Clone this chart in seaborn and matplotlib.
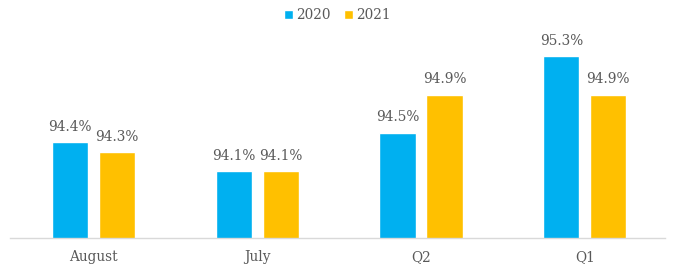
import matplotlib
matplotlib.use("Agg")
import matplotlib.pyplot as plt
import seaborn as sns
import pandas as pd

categories = ["August", "July", "Q2", "Q1"]
series_names = ["2020", "2021"]
values_2020 = [94.4, 94.1, 94.5, 95.3]
values_2021 = [94.3, 94.1, 94.9, 94.9]

df = pd.DataFrame({
    "period": categories * 2,
    "year": ["2020"] * len(categories) + ["2021"] * len(categories),
    "value": values_2020 + values_2021,
})

sns.set_theme(style="white")
plt.rcParams["font.family"] = ["DejaVu Serif"]

fig = plt.figure(figsize=(6.75, 2.72), dpi=100)
ax = fig.add_axes([10 / 675, 34 / 272, 655 / 675, 208 / 272])

palette = {"2020": "#00B0F0", "2021": "#FFC000"}
sns.barplot(data=df, x="period", y="value", hue="year", order=categories,
            hue_order=series_names, palette=palette, width=0.573, gap=0.23,
            ax=ax, saturation=1, legend=True)

ax.set_ylim(93.4, 95.575)
ax.set_xlim(-0.51, 3.49)
for c in ax.containers:
    ax.bar_label(c, fmt="%.1f%%", padding=6, fontsize=9.8, color="#595959")

ax.set_xlabel("")
ax.set_ylabel("")
ax.set_yticks([])
ax.tick_params(axis="x", length=0, labelsize=9.8, labelcolor="#595959", pad=9)
for s in ["top", "left", "right"]:
    ax.spines[s].set_visible(False)
ax.spines["bottom"].set_color("#D9D9D9")
ax.spines["bottom"].set_linewidth(1)

leg = ax.legend(loc="center", bbox_to_anchor=(0.5, 1.07), ncol=2, frameon=False,
                fontsize=9.8, handlelength=0.65, handleheight=0.65,
                handletextpad=0.25, columnspacing=1.0)
for t in leg.get_texts():
    t.set_color("#595959")

fig.savefig("out.png", dpi=100)
